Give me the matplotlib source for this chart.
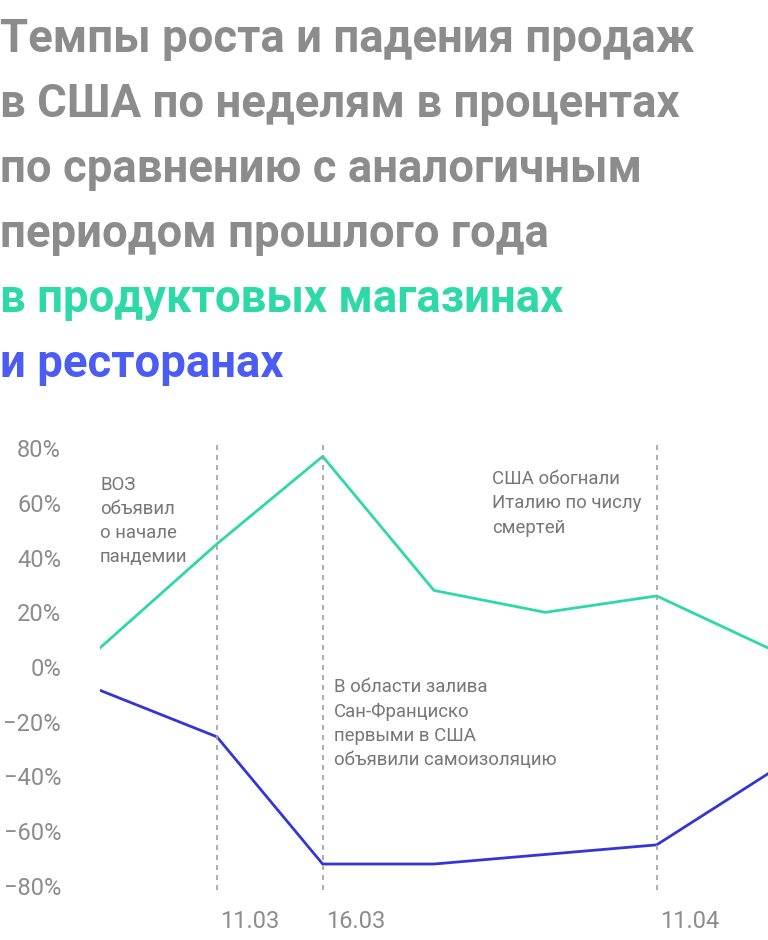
import matplotlib.pyplot as plt
from matplotlib.transforms import blended_transform_factory

# данные
weeks = [0, 1.05, 2, 3, 4, 5, 6]
grocery = [7, 45, 77, 28, 20, 26, 7]
restaurants = [-8.5, -25.5, -72, -72, -68.5, -65, -39]
yticks = [80, 60, 40, 20, 0, -20, -40, -60, -80]
event_x = [1.05, 2, 5]
event_labels = ["11.03", "16.03", "11.04"]

GRAY = "#8c8c8c"
GREEN = "#2ed8a8"
BLUE_T = "#4a5cf2"
BLUE = "#3535d6"

plt.rcParams["font.family"] = ["Roboto", "DejaVu Sans"]

W, H = 768, 940
fig = plt.figure(figsize=(W / 100, H / 100), dpi=100)

# заголовок
title = [("Темпы роста и падения продаж", GRAY),
         ("в США по неделям в процентах", GRAY),
         ("по сравнению с аналогичным", GRAY),
         ("периодом прошлого года", GRAY),
         ("в продуктовых магазинах", GREEN),
         ("и ресторанах", BLUE_T)]
for i, (t, c) in enumerate(title):
    fig.text(0 / W, 1 - (52 + i * 65) / H, t, color=c, fontsize=32.8,
             fontweight="bold", ha="left", va="baseline")

ax = fig.add_axes([100 / W, 50 / H, 668 / W, 450 / H])
ax.plot(weeks, grocery, color=GREEN, lw=2)
ax.plot(weeks, restaurants, color=BLUE, lw=2)
ax.set_xlim(0, 6)
ax.set_ylim(-81.5, 83)
for x in event_x:
    ax.axvline(x, color="#a0a0a0", lw=1.2, ls=(0, (3, 3)))

ax.set_yticks(yticks)
ax.set_yticklabels([f"{v}%".replace("-", "−") for v in yticks])
ax.tick_params(axis="y", length=0, pad=28, labelsize=17, labelcolor=GRAY)
ax.set_xticks([])
for s in ax.spines.values():
    s.set_visible(False)

tr = blended_transform_factory(ax.transData, fig.transFigure)
for x, lab in zip(event_x, event_labels):
    ax.text(x + 0.03, 1 - 928 / H, lab, transform=tr, fontsize=17,
            color=GRAY, ha="left", va="baseline")

notes = [(0.0, 70, "ВОЗ\nобъявил\nо начале\nпандемии"),
         (3.52, 72, "США обогнали\nИталию по числу\nсмертей"),
         (2.1, -4, "В области залива\nСан-Франциско\nпервыми в США\nобъявили самоизоляцию")]
for x, y, t in notes:
    ax.text(x, y, t, fontsize=13.4, color="#777777", ha="left", va="top",
            linespacing=1.45)

fig.savefig("out.png", dpi=100)
